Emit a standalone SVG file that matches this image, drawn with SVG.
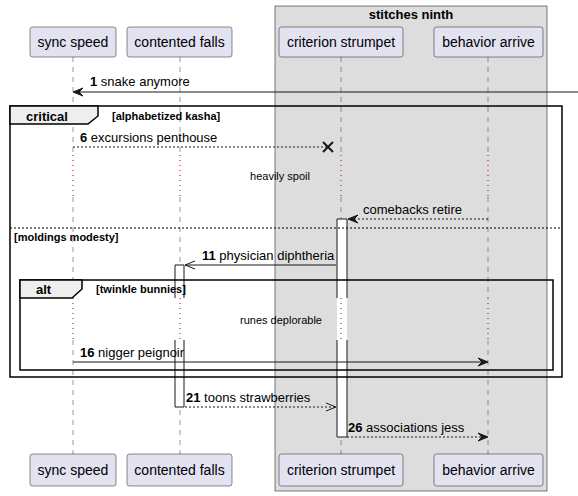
<svg xmlns="http://www.w3.org/2000/svg" width="578" height="496" viewBox="0 0 578 496">
<style>
.pbox{fill:#E2E2F0;stroke:#181818;stroke-width:0.5}
.ptxt{font-family:"Liberation Sans",Arial,sans-serif;font-size:14px;fill:#000;text-anchor:middle}
.life{stroke:#555;stroke-width:0.6;stroke-dasharray:5,5;fill:none}
.delay{stroke:#A80036;stroke-width:1;stroke-dasharray:1,4;fill:none}
.msg{font-family:"Liberation Sans",Arial,sans-serif;font-size:13px;fill:#000}
.num{font-weight:bold}
.line{stroke:#181818;stroke-width:1;fill:none}
.dash{stroke:#181818;stroke-width:1;stroke-dasharray:2,2;fill:none}
.head{fill:#181818;stroke:#181818;stroke-width:1}
.frame{fill:none;stroke:#000;stroke-width:1.5}
.tab{fill:#EEEEEE;stroke:#000;stroke-width:1.5}
.ftitle{font-family:"Liberation Sans",Arial,sans-serif;font-size:13px;font-weight:bold;fill:#000}
.fcond{font-family:"Liberation Sans",Arial,sans-serif;font-size:11px;font-weight:bold;fill:#000}
.dtxt{font-family:"Liberation Sans",Arial,sans-serif;font-size:11px;fill:#000;text-anchor:middle}
.act{fill:#FFFFFF;stroke:none}
.actl{stroke:#181818;stroke-width:1;fill:none}
</style>
<rect width="578" height="496" fill="#FFFFFF"/>
<g id="group-stitches-ninth">
<rect x="275" y="6" width="272" height="485" fill="#DDDDDD" stroke="#000" stroke-width="0.5"/>
<text x="411" y="19" class="ftitle" text-anchor="middle">stitches ninth</text>
</g>
<g id="lifelines">
<path class="life" d="M73,57 V155 M73,197 V298 M73,340 V454"/>
<path class="life" d="M180,57 V155 M180,197 V298 M180,340 V454"/>
<path class="life" d="M341,57 V155 M341,197 V298 M341,340 V454"/>
<path class="life" d="M488,57 V155 M488,197 V298 M488,340 V454"/>
<path class="delay" d="M73,155 V197 M180,155 V197 M341,155 V197 M488,155 V197"/>
</g>
<g id="activations">
<rect class="act" x="175" y="265" width="9" height="142"/>
<path class="actl" d="M175,265 H184 M175,265 V298 M184,265 V298 M175,340 V407 M184,340 V407 M175,407 H184"/>
<rect class="act" x="337" y="219" width="10" height="218"/>
<path class="actl" d="M337,219 H347 M337,219 V298 M347,219 V298 M337,340 V437 M347,340 V437 M337,437 H347"/>
<path class="delay" d="M73,298 V340 M180,298 V340 M341,298 V340 M488,298 V340"/>
</g>
<g id="frame-critical">
<rect class="frame" x="10" y="106" width="552" height="271"/>
<path class="tab" d="M10,106 H98 V116 L88,124 H10 Z"/>
<text x="26" y="121" class="ftitle">critical</text>
<text x="112" y="120" class="fcond">[alphabetized kasha]</text>
<line x1="10" y1="228" x2="562" y2="228" stroke="#000" stroke-width="1" stroke-dasharray="2,2"/>
<text x="14" y="241" class="fcond">[moldings modesty]</text>
</g>
<g id="frame-alt">
<rect class="frame" x="20" y="280" width="533" height="90"/>
<path class="tab" d="M20,280 H82 V289 L72,298 H20 Z"/>
<text x="36" y="294" class="ftitle">alt</text>
<text x="96" y="293" class="fcond">[twinkle bunnies]</text>
</g>
<g id="delays">
<text x="280" y="180" class="dtxt">heavily spoil</text>
<text x="281" y="324" class="dtxt">runes deplorable</text>
</g>
<g id="connectors">
<line class="line" x1="578" y1="92" x2="75" y2="92"/>
<polygon class="head" points="73,92 83,88 79,92 83,96"/>
<text x="90" y="86" class="msg"><tspan class="num">1</tspan> snake anymore</text>

<line class="dash" x1="73" y1="147" x2="328" y2="147"/>
<path d="M323,142 L333,152 M323,152 L333,142" stroke="#181818" stroke-width="2" fill="none"/>
<text x="80" y="142" class="msg"><tspan class="num">6</tspan> excursions penthouse</text>

<line class="dash" x1="488" y1="219" x2="350" y2="219"/>
<polygon class="head" points="348,219 358,215 354,219 358,223"/>
<text x="363" y="214" class="msg">comebacks retire</text>

<line class="line" x1="336" y1="265" x2="185" y2="265"/>
<path class="line" d="M195,261 L185,265 L195,269"/>
<text x="202" y="260" class="msg"><tspan class="num">11</tspan> physician diphtheria</text>

<line class="line" x1="73" y1="362" x2="486" y2="362"/>
<polygon class="head" points="488,362 478,358 482,362 478,366"/>
<text x="80" y="357" class="msg"><tspan class="num">16</tspan> nigger peignoir</text>

<line class="dash" x1="185" y1="407" x2="336" y2="407"/>
<path class="line" d="M326,403 L336,407 L326,411"/>
<text x="186" y="402" class="msg"><tspan class="num">21</tspan> toons strawberries</text>

<line class="dash" x1="347" y1="437" x2="486" y2="437"/>
<polygon class="head" points="488,437 478,433 482,437 478,441"/>
<text x="348" y="432" class="msg"><tspan class="num">26</tspan> associations jess</text>
</g>
<g id="p-sync-speed">
<rect class="pbox" x="30" y="27" width="86" height="30" rx="2.5"/>
<text x="73" y="47" class="ptxt">sync speed</text>
<rect class="pbox" x="30" y="454" width="86" height="32" rx="2.5"/>
<text x="73" y="475" class="ptxt">sync speed</text>
</g>
<g id="p-contented-falls">
<rect class="pbox" x="127" y="27" width="105" height="30" rx="2.5"/>
<text x="179.5" y="47" class="ptxt">contented falls</text>
<rect class="pbox" x="127" y="454" width="105" height="32" rx="2.5"/>
<text x="179.5" y="475" class="ptxt">contented falls</text>
</g>
<g id="p-criterion-strumpet">
<rect class="pbox" x="279" y="27" width="124" height="30" rx="2.5"/>
<text x="341" y="47" class="ptxt">criterion strumpet</text>
<rect class="pbox" x="279" y="454" width="124" height="32" rx="2.5"/>
<text x="341" y="475" class="ptxt">criterion strumpet</text>
</g>
<g id="p-behavior-arrive">
<rect class="pbox" x="434" y="27" width="109" height="30" rx="2.5"/>
<text x="488.5" y="47" class="ptxt">behavior arrive</text>
<rect class="pbox" x="434" y="454" width="109" height="32" rx="2.5"/>
<text x="488.5" y="475" class="ptxt">behavior arrive</text>
</g>
</svg>
